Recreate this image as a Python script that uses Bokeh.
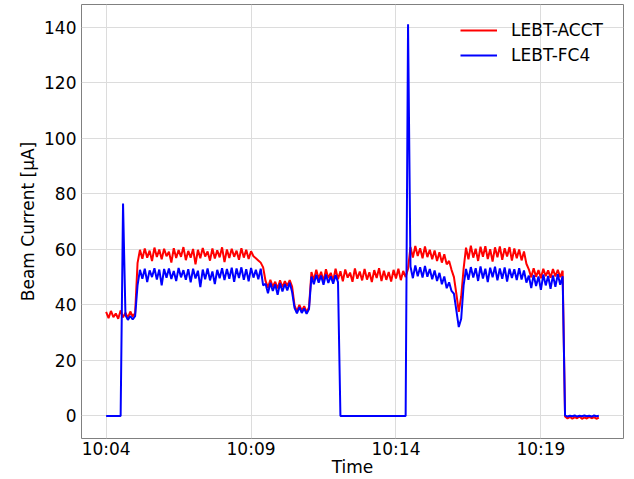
import pandas as pd
from bokeh.plotting import figure
from bokeh.models import (Range1d, FixedTicker, DatetimeTickFormatter, Legend,
                          LegendItem)
from bokeh.embed import file_html
from bokeh.resources import INLINE

# ---------------- data (5 s sampling from 10:04:00) ----
start_time = "2024-01-01 10:04:00"
sample_step = "5s"

acct = [
    37.5, 35.2, 37.8, 35.6, 36.9, 35.0, 38.0, 35.5, 37.2, 35.3, 37.6, 35.8, 37.0,
    55.0,
    59.8, 56.6, 60.3, 57.0, 59.5, 55.8, 60.6, 57.2, 59.9, 56.4,
    60.2, 57.5, 59.1, 55.2, 60.4, 56.9, 59.7, 57.3, 60.8, 56.1,
    59.4, 57.0, 60.1, 54.6, 59.8, 56.8, 60.5, 57.4, 59.2, 55.9,
    60.3, 56.7, 59.6, 57.1, 60.7, 55.4, 59.9, 56.9, 60.2, 57.3,
    59.5, 56.2, 60.4, 57.0, 59.8, 56.5, 59.3,
    57.5, 56.8, 56.0, 55.2, 53.5,
    48.6, 46.2, 49.0, 46.5, 48.3, 45.9, 48.8, 46.4, 48.5, 46.8, 48.9, 46.6,
    39.8, 37.6, 40.0, 37.9, 39.5, 37.4, 39.2,
    51.8, 48.9, 52.6, 49.3, 51.9, 48.4, 52.8, 49.6, 51.5, 48.7,
    53.0, 49.2, 52.1, 48.5, 52.7, 49.8, 51.6, 48.3, 53.1, 49.4,
    52.0, 48.8, 52.9, 49.1, 51.7, 48.2, 52.5, 49.7, 53.2, 48.6,
    52.3, 49.0, 51.8, 48.4, 52.6, 49.5, 53.0, 48.9, 52.2, 50.0,
    53.0,
    60.8, 57.0, 61.2, 57.6, 60.4, 56.8, 61.0, 57.2, 59.8, 56.4,
    59.6, 55.8, 58.9, 55.2, 58.2, 54.6, 55.8, 52.6,
    50.0, 44.0, 37.5, 43.0, 53.0,
    60.6, 56.4, 61.3, 57.0, 60.2, 55.8, 60.9, 57.3, 61.1, 56.5,
    60.0, 55.6, 60.7, 57.1, 61.0, 56.2, 60.4, 57.4, 60.8, 55.9,
    60.3, 56.8, 59.9, 56.0, 59.2, 54.8,
    52.8, 49.9, 53.2, 50.1, 52.5, 49.6, 53.0, 50.3, 52.4, 49.8,
    52.9, 50.2, 52.6, 50.0, 52.3,
    -0.2, -0.9, -0.3, -1.0, -0.4, -0.8, -0.2, -1.0, -0.5, -0.9,
    -0.3, -0.8, -0.4, -1.0, -0.6,
]

fc4 = [
    0.0, 0.0, 0.0, 0.0, 0.0, 0.0, 0.0,
    76.5,
    36.3, 34.6, 36.0, 34.8, 35.9,
    47.0,
    52.6, 49.4, 53.0, 48.2, 52.4, 50.0, 53.2, 49.1, 52.7, 47.0,
    52.9, 49.8, 53.1, 49.3, 52.2, 48.6, 53.3, 49.9, 52.5, 49.0,
    52.8, 48.1, 53.0, 49.5, 52.3, 46.4, 52.7, 49.2, 53.1, 48.8,
    52.0, 47.5, 52.6, 49.6, 53.2, 48.9, 52.9, 49.4, 53.4, 48.3,
    53.1, 49.7, 53.5, 49.0, 52.8, 48.5, 53.3, 49.8, 52.6, 49.2, 53.0,
    47.0,
    47.6, 44.2, 47.9, 45.0, 47.4, 43.6, 47.8, 44.8, 47.5, 45.2, 48.0, 44.6,
    38.9, 36.9, 39.2, 37.1, 38.7, 36.8, 38.5,
    50.2, 47.4, 50.8, 48.0, 50.5, 47.2, 50.9, 47.9, 50.3, 47.6, 50.7, 48.2,
    0.0, 0.0, 0.0, 0.0, 0.0, 0.0, 0.0, 0.0, 0.0, 0.0,
    0.0, 0.0, 0.0, 0.0, 0.0, 0.0, 0.0, 0.0, 0.0, 0.0,
    0.0, 0.0, 0.0, 0.0, 0.0, 0.0, 0.0, 0.0,
    141.0,
    53.8, 49.6, 54.2, 50.3, 53.5, 49.8, 54.0, 50.1, 52.9, 49.2,
    52.4, 48.6, 51.5, 47.4, 50.2, 46.0, 48.1, 45.0,
    44.0, 38.0, 32.0, 35.0, 47.0,
    52.9, 49.0, 53.6, 49.8, 53.2, 48.6, 53.8, 49.5, 53.0, 48.2,
    53.4, 49.9, 53.7, 48.8, 53.1, 49.4, 53.5, 48.4, 53.0, 49.7,
    52.8, 48.9, 53.2, 49.1, 52.4, 48.0,
    50.5, 46.0, 50.8, 46.8, 50.2, 45.4, 50.9, 47.0, 50.4, 45.8,
    50.6, 46.5, 51.0, 47.2, 50.3,
    0.2, -0.2, 0.1, -0.1, 0.2, -0.2, 0.1, -0.1, 0.2, -0.1,
    0.1, -0.2, 0.2, -0.1, 0.1,
]

series_names = ["LEBT-ACCT", "LEBT-FC4"]
series_colors = ["#ff0000", "#0000ff"]
x_tick_labels = ["10:04", "10:09", "10:14", "10:19"]
y_ticks = [0, 20, 40, 60, 80, 100, 120, 140]
x_label = "Time"
y_label = "Beam Current [\u03bcA]"

# ---------------- build -------------------------------------------------------
times = pd.date_range(start_time, periods=len(acct), freq=sample_step)
day = start_time.split(" ")[0]
x_tick_ms = [pd.Timestamp(day + " " + lab).value / 1e6 for lab in x_tick_labels]

span = times[-1] - times[0]
x_range = Range1d(start=times[0] - span * 0.05, end=times[-1] + span * 0.05)
all_vals = acct + fc4
ymin, ymax = min(all_vals), max(all_vals)
ypad = (ymax - ymin) * 0.05
y_range = Range1d(start=ymin - ypad, end=ymax + ypad)

FONT = "DejaVu Sans"

p = figure(width=634, height=479, x_axis_type="datetime",
           x_range=x_range, y_range=y_range,
           output_backend="svg", toolbar_location=None,
           min_border_left=81, min_border_right=11,
           min_border_top=4, min_border_bottom=40)

p.background_fill_color = "white"
p.border_fill_color = "white"
p.outline_line_color = "#808080"
p.outline_line_width = 1

renderers = []
for vals, col in zip([acct, fc4], series_colors):
    r = p.line(times, vals, line_color=col, line_width=2)
    renderers.append(r)

p.xaxis.ticker = FixedTicker(ticks=x_tick_ms)
p.xaxis.formatter = DatetimeTickFormatter(
    microseconds="%H:%M", milliseconds="%H:%M", seconds="%H:%M",
    minsec="%H:%M", minutes="%H:%M", hourmin="%H:%M", hours="%H:%M",
    days="%H:%M", months="%H:%M", years="%H:%M")
p.yaxis.ticker = FixedTicker(ticks=y_ticks)

for ax in [p.xaxis[0], p.yaxis[0]]:
    ax.axis_line_color = None
    ax.major_tick_line_color = None
    ax.minor_tick_line_color = None
    ax.major_tick_out = 0
    ax.major_tick_in = 0
    ax.major_label_text_font = FONT
    ax.major_label_text_font_size = "17px"
    ax.major_label_text_color = "black"
    ax.axis_label_text_font = FONT
    ax.axis_label_text_font_size = "17px"
    ax.axis_label_text_font_style = "normal"
    ax.axis_label_text_color = "black"

p.xaxis.axis_label = x_label
p.yaxis.axis_label = y_label
p.xaxis.major_label_standoff = 0
p.xaxis.axis_label_standoff = -5
p.yaxis.major_label_standoff = 5
p.yaxis.axis_label_standoff = 3

p.grid.grid_line_color = "#dcdcdc"
p.grid.grid_line_width = 1

legend = Legend(items=[LegendItem(label=n, renderers=[r])
                       for n, r in zip(series_names, renderers)],
                location="top_right")
legend.background_fill_alpha = 0
legend.border_line_alpha = 0
legend.label_text_font = FONT
legend.label_text_font_size = "17px"
legend.label_text_color = "black"
legend.glyph_width = 37
legend.glyph_height = 20
legend.label_standoff = 14
legend.label_width = 96
legend.spacing = 5
legend.padding = 6
legend.margin = 10
p.add_layout(legend)

open("out.html", "w").write(file_html(p, INLINE))
